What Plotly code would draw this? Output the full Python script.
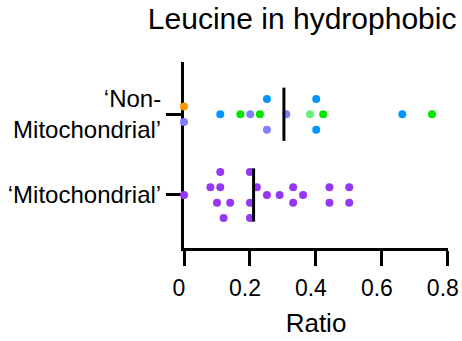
import plotly.graph_objects as go

# ---- data ----
categories = ["‘Mitochondrial’", "‘Non-<br>Mitochondrial’"]

nonmito_values = [0.0, 0.0, 0.11, 0.171, 0.201, 0.23, 0.2515, 0.2515, 0.31,
                  0.382, 0.401, 0.422, 0.401, 0.662, 0.752]
nonmito_groups = ["orange", "lavender", "blue", "green", "lavender", "green",
                  "blue", "lavender", "lavender", "lightgreen", "blue", "green",
                  "blue", "blue", "green"]
nonmito_lanes = [1, -1, 0, 0, 0, 0, 2, -2, 0, 0, 2, 0, -2, 0, 0]

mito_values = [0.0, 0.11, 0.2, 0.08, 0.11, 0.221, 0.331, 0.441, 0.501,
               0.2515, 0.29, 0.361, 0.1, 0.14, 0.2, 0.331, 0.441, 0.501,
               0.12, 0.2]
mito_lanes = [0, 3, 3, 1, 1, 1, 1, 1, 1, 0, 0, 0, -1, -1, -1, -1, -1, -1, -3, -3]

centre_lines = [0.211, 0.303]   # Mitochondrial, Non-Mitochondrial

x_ticks = [0, 0.2, 0.4, 0.6, 0.8]
x_tick_labels = ["0", "0.2", "0.4", "0.6", "0.8"]

# ---- styling ----
palette = {
    "orange": "#FF9500",
    "lavender": "#7F7FFF",
    "blue": "#0096FF",
    "green": "#00E600",
    "lightgreen": "#66EE77",
    "purple": "#9538F5",
}
lane_step = 0.0954
half_len = 0.33
FONT = "Liberation Sans, Arial, sans-serif"

fig = go.Figure()

fig.add_trace(go.Scatter(
    x=mito_values,
    y=[0 + l * lane_step for l in mito_lanes],
    mode="markers",
    marker=dict(size=8, color=palette["purple"], line=dict(width=0)),
    cliponaxis=False, showlegend=False, hoverinfo="x",
))

fig.add_trace(go.Scatter(
    x=nonmito_values,
    y=[1 + l * lane_step for l in nonmito_lanes],
    mode="markers",
    marker=dict(size=8, color=[palette[g] for g in nonmito_groups], line=dict(width=0)),
    cliponaxis=False, showlegend=False, hoverinfo="x",
))

for i, c in enumerate(centre_lines):
    fig.add_trace(go.Scatter(
        x=[c, c], y=[i - half_len, i + half_len],
        mode="lines", line=dict(color="black", width=3),
        cliponaxis=False, showlegend=False, hoverinfo="skip",
    ))

fig.update_layout(
    width=462, height=341,
    margin=dict(l=184, r=14, t=62, b=93),
    paper_bgcolor="white", plot_bgcolor="white",
    font=dict(family=FONT, color="black"),
    title=dict(text="Leucine in hydrophobic", x=0.654, xref="container", xanchor="center",
               y=0.978, yref="container", yanchor="top",
               font=dict(size=30, family=FONT, color="black")),
)

fig.update_xaxes(
    range=[0, 0.8005], tickvals=x_ticks, ticktext=x_tick_labels,
    showline=True, linecolor="black", linewidth=3,
    ticks="outside", ticklen=15, tickwidth=3, tickcolor="black",
    tickfont=dict(size=23, family=FONT, color="black"),
    ticklabeloverflow="allow", ticklabelstandoff=2, ticklabelshift=-5, automargin=False,
    showgrid=False, zeroline=False, layer="below traces",
    title=dict(text="Ratio", font=dict(size=26, family=FONT, color="black"), standoff=15),
)

fig.update_yaxes(
    range=[-0.657, 1.648], tickvals=[0, 1], ticktext=categories,
    showline=True, linecolor="black", linewidth=3,
    ticks="outside", ticklen=15, tickwidth=3, tickcolor="black",
    tickfont=dict(size=24, family=FONT, color="black"),
    ticklabeloverflow="allow", automargin=False,
    showgrid=False, zeroline=False, layer="below traces",
)

fig.write_html("out.html")
